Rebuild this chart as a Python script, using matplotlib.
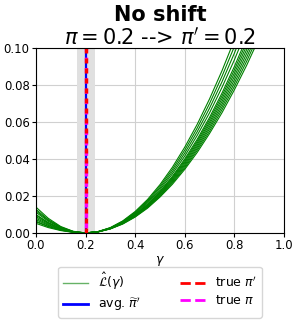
import numpy as np
from matplotlib import pyplot as plt
from matplotlib.lines import Line2D

gammas = [0.0, 0.05, 0.1, 0.15, 0.2, 0.25, 0.3, 0.35, 0.4, 0.45, 0.5,
          0.55, 0.6, 0.65, 0.7, 0.75, 0.8, 0.85, 0.9]

# estimated loss curves L_hat(gamma), one row per run
loss_curves = [
    [0.0140, 0.0079, 0.0035, 0.0009, 0, 0.0007, 0.0029, 0.0065, 0.0116, 0.0181, 0.0261, 0.0355, 0.0464, 0.0587, 0.0725, 0.0877, 0.1044, 0.1225, 0.1421],
    [0.0120, 0.0068, 0.0030, 0.0008, 0, 0.0007, 0.0027, 0.0061, 0.0108, 0.0169, 0.0243, 0.0331, 0.0432, 0.0547, 0.0675, 0.0817, 0.0972, 0.1141, 0.1323],
    [0.0100, 0.0056, 0.0025, 0.0006, 0, 0.0006, 0.0025, 0.0056, 0.0100, 0.0156, 0.0225, 0.0306, 0.0400, 0.0506, 0.0625, 0.0756, 0.0900, 0.1056, 0.1225],
    [0.0080, 0.0045, 0.0020, 0.0005, 0, 0.0006, 0.0024, 0.0054, 0.0096, 0.0150, 0.0216, 0.0294, 0.0384, 0.0486, 0.0600, 0.0726, 0.0864, 0.1014, 0.1176],
    [0.0060, 0.0034, 0.0015, 0.0004, 0, 0.0006, 0.0023, 0.0052, 0.0092, 0.0144, 0.0207, 0.0282, 0.0368, 0.0466, 0.0575, 0.0696, 0.0828, 0.0972, 0.1127],
    [0.0052, 0.0029, 0.0013, 0.0003, 0, 0.0006, 0.0022, 0.0050, 0.0088, 0.0138, 0.0198, 0.0270, 0.0352, 0.0446, 0.0550, 0.0666, 0.0792, 0.0930, 0.1078],
    [0.0112, 0.0063, 0.0028, 0.0007, 0, 0.0006, 0.0024, 0.0053, 0.0094, 0.0147, 0.0212, 0.0288, 0.0376, 0.0476, 0.0588, 0.0711, 0.0846, 0.0993, 0.1152],
    [0.0088, 0.0050, 0.0022, 0.0006, 0, 0.0007, 0.0026, 0.0059, 0.0104, 0.0163, 0.0234, 0.0319, 0.0416, 0.0527, 0.0650, 0.0787, 0.0936, 0.1099, 0.1274],
    [0.0072, 0.0041, 0.0018, 0.0005, 0, 0.0006, 0.0025, 0.0055, 0.0098, 0.0153, 0.0221, 0.0300, 0.0392, 0.0496, 0.0613, 0.0741, 0.0882, 0.1035, 0.1200],
    [0.0128, 0.0072, 0.0032, 0.0008, 0, 0.0006, 0.0023, 0.0051, 0.0090, 0.0141, 0.0203, 0.0276, 0.0360, 0.0456, 0.0563, 0.0681, 0.0810, 0.0951, 0.1103],
    [0.0096, 0.0054, 0.0024, 0.0006, 0, 0.0007, 0.0028, 0.0063, 0.0112, 0.0175, 0.0252, 0.0343, 0.0448, 0.0567, 0.0700, 0.0847, 0.1008, 0.1183, 0.1372],
    [0.0064, 0.0036, 0.0016, 0.0004, 0, 0.0005, 0.0022, 0.0048, 0.0086, 0.0134, 0.0194, 0.0263, 0.0344, 0.0435, 0.0538, 0.0650, 0.0774, 0.0908, 0.1054],
]

pi_true = 0.2
pi_prime_true = 0.2
pi_hat_avg = 0.2
pi_hat_band = [0.167, 0.240]

fig = plt.figure(figsize=(2.99, 3.24), dpi=100)
ax = fig.add_axes([0.12, 0.281, 0.83, 0.571])

for curve in loss_curves:
    ax.plot(gammas, curve, color='green', lw=0.8)

ax.axvspan(pi_hat_band[0], pi_hat_band[1], color='#e0e0e0', lw=0)
ax.axvline(pi_hat_avg, color='blue', lw=1.6)
# magenta dashes drift slowly against the red ones
ax.axvline(pi_true, color='magenta', lw=2.4, ls=(1.5, (1.55, 1.55)))
ax.axvline(pi_prime_true, color='red', lw=2.4, ls=(0, (1.5, 1.5)))

ax.set_xlim(0, 1)
ax.set_ylim(0, 0.1)
ax.set_xticks([0, 0.2, 0.4, 0.6, 0.8, 1.0])
ax.set_yticks([0, 0.02, 0.04, 0.06, 0.08, 0.1])
ax.tick_params(labelsize=8.4, length=3, pad=1.5)
ax.grid(True, color='#d0d0d0', lw=0.8)
ax.set_axisbelow(True)
ax.set_xlabel(r'$\gamma$', fontsize=9, labelpad=1)

fig.text(0.535, 0.955, 'No shift', ha='center', va='center',
         fontsize=15, fontweight='bold')
ax.set_title(r"$\pi = 0.2$ --> $\pi' = 0.2$", fontsize=15, pad=2)

handles = [
    Line2D([], [], color='green', lw=1, alpha=0.6),
    Line2D([], [], color='blue', lw=2),
    Line2D([], [], color='red', lw=2, ls='--'),
    Line2D([], [], color='magenta', lw=2, ls='--'),
]
labels = [r'$\hat{\mathcal{L}}(\gamma)$', r"avg. $\widetilde{\pi}'$",
          r"true $\pi'$", r'true $\pi$']
fig.legend(handles, labels, ncol=2, loc='lower center',
           bbox_to_anchor=(0.535, 0.0), fontsize=9,
           handlelength=2, columnspacing=3.2, borderpad=0.35,
           labelspacing=0.3)

fig.savefig('out.png', dpi=100)
